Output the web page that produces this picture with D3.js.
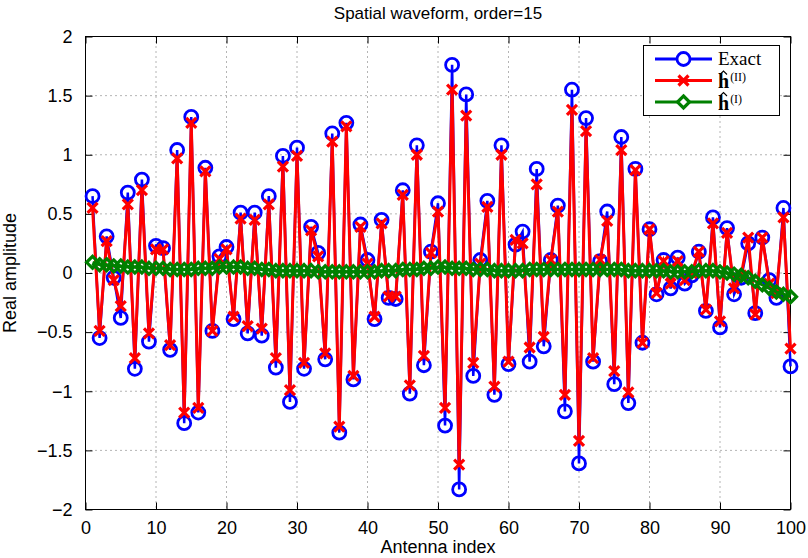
<!DOCTYPE html>
<html><head><meta charset="utf-8">
<script src="https://cdn.jsdelivr.net/npm/d3@7"></script>
<style>body{margin:0;background:#fff}</style>
</head><body>
<svg id="c" width="808" height="558"></svg>
<script>
const antennaIndex = d3.range(1, 101);
const exact = [
 0.65,-0.55,0.31,-0.04,-0.38,0.68,-0.81,0.79,-0.58,0.23,
 0.21,-0.65,1.04,-1.27,1.32,-1.18,0.89,-0.49,0.14,0.22,
 -0.39,0.51,-0.51,0.51,-0.53,0.65,-0.80,0.99,-1.09,1.06,
 -0.81,0.39,0.17,-0.73,1.18,-1.35,1.27,-0.90,0.41,0.11,
 -0.39,0.45,-0.21,-0.22,0.70,-1.02,1.08,-0.78,0.18,0.59,
 -1.29,1.76,-1.83,1.51,-0.87,0.11,0.61,-1.03,1.08,-0.77,
 0.24,0.35,-0.75,0.88,-0.62,0.11,0.57,-1.17,1.55,-1.61,
 1.31,-0.75,0.10,0.52,-0.94,1.15,-1.10,0.88,-0.59,0.37,
 -0.18,0.11,-0.13,0.13,-0.09,-0.02,0.18,-0.32,0.47,-0.46,
 0.38,-0.18,-0.04,0.25,-0.34,0.30,-0.06,-0.21,0.55,-0.79];
const estII = [
 0.55,-0.49,0.27,-0.06,-0.28,0.58,-0.72,0.70,-0.51,0.20,
 0.20,-0.61,0.97,-1.18,1.27,-1.14,0.86,-0.49,0.12,0.20,
 -0.37,0.46,-0.45,0.45,-0.47,0.58,-0.72,0.90,-0.99,0.99,
 -0.76,0.36,0.14,-0.68,1.11,-1.30,1.24,-0.87,0.39,0.08,
 -0.37,0.42,-0.20,-0.20,0.66,-0.95,1.00,-0.70,0.17,0.52,
 -1.14,1.55,-1.62,1.33,-0.76,0.08,0.56,-0.96,1.00,-0.75,
 0.28,0.25,-0.63,0.75,-0.54,0.11,0.52,-1.03,1.38,-1.42,
 1.20,-0.72,0.11,0.44,-0.83,1.04,-1.01,0.87,-0.59,0.37,
 -0.17,0.10,-0.09,0.10,-0.06,0.00,0.18,-0.31,0.42,-0.41,
 0.34,-0.13,-0.02,0.30,-0.35,0.30,-0.09,-0.17,0.47,-0.64];
const estI = [
 0.09,0.07,0.07,0.06,0.06,0.05,0.05,0.05,0.04,0.04,
 0.04,0.03,0.03,0.03,0.03,0.04,0.04,0.04,0.05,0.05,
 0.05,0.05,0.04,0.04,0.03,0.03,0.02,0.02,0.02,0.02,
 0.02,0.02,0.01,0.01,0.01,0.01,0.01,0.01,0.01,0.01,
 0.01,0.02,0.02,0.02,0.03,0.03,0.03,0.04,0.04,0.05,
 0.05,0.04,0.04,0.04,0.03,0.03,0.03,0.02,0.02,0.02,
 0.02,0.02,0.03,0.03,0.03,0.03,0.03,0.03,0.03,0.03,
 0.03,0.03,0.03,0.03,0.03,0.03,0.02,0.02,0.02,0.02,
 0.02,0.02,0.01,0.01,0.01,0.01,0.02,0.02,0.02,0.01,
 0.00,-0.01,-0.02,-0.04,-0.07,-0.10,-0.13,-0.16,-0.18,-0.20];
const xTicks = [0,10,20,30,40,50,60,70,80,90,100];
const yTicks = [-2,-1.5,-1,-0.5,0,0.5,1,1.5,2];
const titleText = "Spatial waveform, order=15";
const xLabel = "Antenna index";
const yLabel = "Real amplitude";
const legendLabels = ["Exact", "II", "I"];

const svg = d3.select("#c");
svg.append("rect").attr("width",808).attr("height",558).attr("fill","#fff");
const L = 85.5, R = 790.5, T = 36.5, B = 509.5;
const x = d3.scaleLinear().domain([0,100]).range([L,R]);
const y = d3.scaleLinear().domain([-2,2]).range([B,T]);
const fmt = v => (v<0?"\u2212":"") + Math.abs(v);
const font = "'Liberation Sans', Arial, sans-serif";

// grid
const grid = svg.append("g").attr("stroke","#444").attr("stroke-width",0.8).attr("stroke-dasharray","1,4");
xTicks.slice(1,-1).forEach(t => grid.append("line").attr("x1",x(t)).attr("x2",x(t)).attr("y1",T).attr("y2",B));
yTicks.slice(1,-1).forEach(t => grid.append("line").attr("x1",L).attr("x2",R).attr("y1",y(t)).attr("y2",y(t)));

// axes (ticks inward)
const tl = 7;
const axB = d3.axisBottom(x).tickValues(xTicks).tickSize(-tl).tickPadding(tl+5).tickFormat(fmt);
const axT = d3.axisTop(x).tickValues(xTicks).tickSize(-tl).tickFormat("");
const axL = d3.axisLeft(y).tickValues(yTicks).tickSize(-tl).tickPadding(tl+6).tickFormat(fmt);
const axR = d3.axisRight(y).tickValues(yTicks).tickSize(-tl).tickFormat("");
function styleAx(g){ g.select(".domain").remove(); g.selectAll("line").attr("stroke","#000"); g.selectAll("text").attr("font-family",font).attr("font-size",18).attr("fill","#000"); }
svg.append("g").attr("transform",`translate(0,${B})`).call(axB).call(styleAx);
svg.append("g").attr("transform",`translate(0,${T})`).call(axT).call(styleAx);
svg.append("g").attr("transform",`translate(${L},0)`).call(axL).call(styleAx);
svg.append("g").attr("transform",`translate(${R},0)`).call(axR).call(styleAx);
svg.append("rect").attr("x",L).attr("y",T).attr("width",R-L).attr("height",B-T).attr("fill","none").attr("stroke","#000").attr("stroke-width",1);

// series
const line = arr => d3.line().x((d,i)=>x(antennaIndex[i])).y(d=>y(d))(arr);
const gB = svg.append("g");
gB.append("path").attr("d",line(exact)).attr("fill","none").attr("stroke","#0000ff").attr("stroke-width",2.5);
gB.selectAll("circle").data(exact).join("circle").attr("cx",(d,i)=>x(antennaIndex[i])).attr("cy",d=>y(d)).attr("r",6.5).attr("fill","none").attr("stroke","#0000ff").attr("stroke-width",2.8);

const gR = svg.append("g");
gR.append("path").attr("d",line(estII)).attr("fill","none").attr("stroke","#ff0000").attr("stroke-width",3);
const xm = 5;
gR.selectAll("path.m").data(estII).join("path").attr("class","m")
  .attr("d",(d,i)=>{const cx=x(antennaIndex[i]), cy=y(d); return `M${cx-xm},${cy-xm}L${cx+xm},${cy+xm}M${cx-xm},${cy+xm}L${cx+xm},${cy-xm}`;})
  .attr("stroke","#ff0000").attr("stroke-width",3.2).attr("fill","none");

const gG = svg.append("g");
gG.append("path").attr("d",line(estI)).attr("fill","none").attr("stroke","#008000").attr("stroke-width",3);
const dm = 6;
gG.selectAll("path.m").data(estI).join("path").attr("class","m")
  .attr("d",(d,i)=>{const cx=x(antennaIndex[i]), cy=y(d); return `M${cx},${cy-dm}L${cx+dm},${cy}L${cx},${cy+dm}L${cx-dm},${cy}Z`;})
  .attr("stroke","#008000").attr("stroke-width",3.2).attr("fill","none");

// labels
svg.append("text").attr("x",(L+R)/2).attr("y",19).attr("text-anchor","middle").attr("font-family",font).attr("font-size",17).text(titleText);
svg.append("text").attr("x",(L+R)/2).attr("y",553).attr("text-anchor","middle").attr("font-family",font).attr("font-size",18).text(xLabel);
svg.append("text").attr("transform",`translate(16,${(T+B)/2}) rotate(-90)`).attr("text-anchor","middle").attr("font-family",font).attr("font-size",18).text(yLabel);

// legend
const lg = svg.append("g");
lg.append("rect").attr("x",643.5).attr("y",45.5).attr("width",136).attr("height",70).attr("fill","#fff").attr("stroke","#000").attr("stroke-width",1);
const colors = ["#0000ff","#ff0000","#008000"];
const markers = ["o","x","d"];
const rowY = [59,80.5,102];
const serif = "'Liberation Serif', 'DejaVu Serif', serif";
legendLabels.forEach((lab,k)=>{
  const c = colors[k], cy = rowY[k], cx = 683.5;
  lg.append("line").attr("x1",655).attr("x2",712).attr("y1",cy).attr("y2",cy).attr("stroke",c).attr("stroke-width",3);
  if(markers[k]==="o") lg.append("circle").attr("cx",cx).attr("cy",cy).attr("r",6.5).attr("fill","#fff").attr("stroke",c).attr("stroke-width",2.8);
  if(markers[k]==="x") lg.append("path").attr("d",`M${cx-xm},${cy-xm}L${cx+xm},${cy+xm}M${cx-xm},${cy+xm}L${cx+xm},${cy-xm}`).attr("stroke",c).attr("stroke-width",3.2);
  if(markers[k]==="d") lg.append("path").attr("d",`M${cx},${cy-dm}L${cx+dm},${cy}L${cx},${cy+dm}L${cx-dm},${cy}Z`).attr("fill","#fff").attr("stroke",c).attr("stroke-width",3.2);
  if(k===0){
    lg.append("text").attr("x",718).attr("y",cy+6).attr("font-family",serif).attr("font-size",19).text(lab);
  } else {
    const t = lg.append("text").attr("x",718).attr("y",cy+7.5).attr("font-family",serif).attr("font-size",20);
    t.append("tspan").attr("font-weight","bold").text("h");
    t.append("tspan").attr("font-size",12).attr("dy",-7).attr("dx",1).text("("+lab+")");
    // hat accent drawn as a path
    const hx = 723.5, hy = cy - 8.5;
    lg.append("path").attr("d",`M${hx-3.5},${hy+2.5}L${hx},${hy-1}L${hx+3.5},${hy+2.5}`).attr("fill","none").attr("stroke","#000").attr("stroke-width",1.1);
  }
});
</script>
</body></html>
